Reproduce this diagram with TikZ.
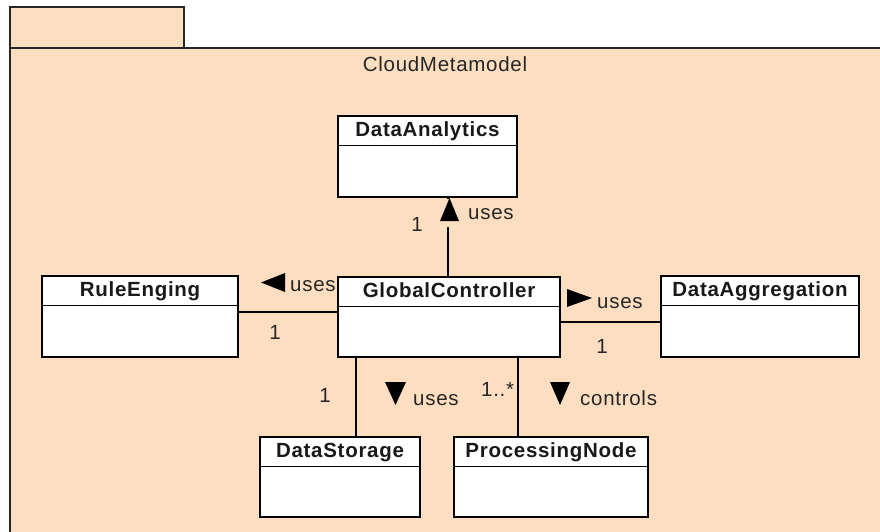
\documentclass[tikz,border=0pt]{standalone}
\usepackage{fontspec}
\setmainfont{Liberation Sans}[LetterSpace=3.5]
\definecolor{pkg}{RGB}{254,222,192}
\tikzset{
  cls/.style={draw=black, line width=1.5pt, fill=white, inner sep=0pt},
  ttl/.style={font=\fontsize{20.5}{24}\selectfont\bfseries, inner sep=0pt, anchor=base, text=black!90},
  lbl/.style={font=\fontsize{20.5}{24}\selectfont, inner sep=0pt, anchor=base, text=black!85},
  conn/.style={draw=black, line width=1.3pt},
  pkgline/.style={draw=black!85, line width=1.5pt},
  tri/.style={fill=black}
}
\newcommand{\umlclass}[5]{%
  \node[cls, minimum width=#3, minimum height=#4] (#1) at (#2) {};
  \draw[line width=1.5pt] ([yshift=-30pt]#1.north west) -- ([yshift=-30pt]#1.north east);
  \node[ttl] (#1-t) at ([yshift=-21pt]#1.north) {#5};}
\begin{document}
\begin{tikzpicture}[x=1pt,y=-1pt]
\useasboundingbox (0,0) rectangle (880,531);
\clip (0,0) rectangle (880,531);
% package
\fill[pkg] (10,7) rectangle (184,48);
\fill[pkg] (10,48) rectangle (890,540);
\draw[pkgline] (10,48) -- (10,7) -- (184,7) -- (184,48);
\draw[pkgline] (10,540) -- (10,48) -- (890,48);
\node[lbl] (pkgname) at (445,71) {CloudMetamodel};
% classes
\umlclass{da}{427.5,156.5}{179pt}{81pt}{DataAnalytics}
\umlclass{gc}{449,317}{222pt}{80pt}{GlobalController}
\umlclass{re}{140,316.5}{196pt}{81pt}{RuleEnging}
\umlclass{dg}{760,316.5}{198pt}{81pt}{DataAggregation}
\umlclass{ds}{340,477}{160pt}{80pt}{DataStorage}
\umlclass{pn}{551,477}{194pt}{80pt}{ProcessingNode}
% connectors
\draw[conn] ([xshift=-1pt]gc.north) -- ([xshift=-1pt]gc.north |- da.south);
\node[fill=pkg, minimum width=24pt, minimum height=28pt, inner sep=0pt] (mask) at (449.5,213) {};
\draw[conn] ([yshift=5pt]gc.west) -- ([yshift=5pt]gc.west -| re.east);
\draw[conn] ([yshift=-5pt]gc.east) -- ([yshift=-5pt]gc.east -| dg.west);
\draw[conn] ([xshift=-93pt]gc.south) -- ([xshift=-93pt]gc.south |- ds.north);
\draw[conn] ([xshift=69pt]gc.south) -- ([xshift=69pt]gc.south |- pn.north);
% direction triangles
\fill[tri] (440,221) -- (459,221) -- (449.5,198) -- cycle;
\fill[tri] (261,282.5) -- (285,273) -- (285,292) -- cycle;
\fill[tri] (567,289) -- (592,298) -- (567,307) -- cycle;
\fill[tri] (385,382) -- (406,382) -- (395.5,405) -- cycle;
\fill[tri] (550,382) -- (570,382) -- (560,405) -- cycle;
% labels
\node[lbl] (m1) at (417,231) {1};
\node[lbl, anchor=base west] (u1) at (468,219) {uses};
\node[lbl] (m2) at (275,339) {1};
\node[lbl, anchor=base west] (u2) at (290,291) {uses};
\node[lbl] (m3) at (602,353) {1};
\node[lbl, anchor=base west] (u3) at (597,308) {uses};
\node[lbl] (m4) at (325,402) {1};
\node[lbl, anchor=base west] (u4) at (413,405) {uses};
\node[lbl, anchor=base west] (m5) at (481,396) {1..*};
\node[lbl, anchor=base west] (u5) at (580,405) {controls};
\end{tikzpicture}
\end{document}
